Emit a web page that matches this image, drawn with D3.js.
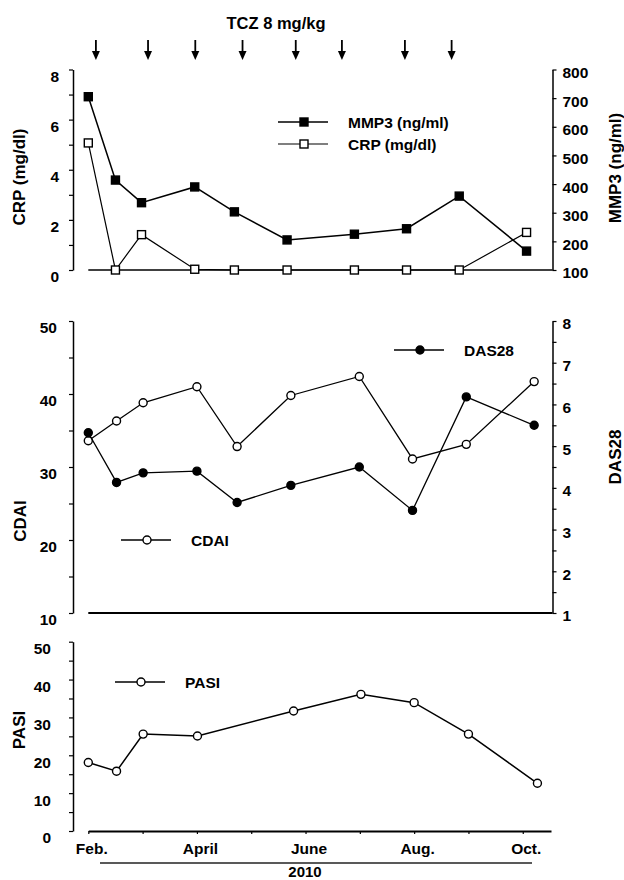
<!DOCTYPE html>
<html>
<head>
<meta charset="utf-8">
<script src="https://cdn.jsdelivr.net/npm/d3@7"></script>
<style>
  body { margin: 0; background: #fff; }
  svg text { font-family: "Liberation Sans", Arial, sans-serif; font-weight: bold; fill: #000; }
</style>
</head>
<body>
<svg id="chart" width="624" height="880"></svg>
<script>
/*
 * TCZ treatment course: CRP / MMP3, CDAI / DAS28 and PASI, Feb. - Oct. 2010
 */

// ** Data **
const monthTicks  = [0, 1, 2, 3, 4, 5, 6, 7, 8];          // months since Feb.
const monthLabels = ["Feb.", "", "April", "", "June", "", "Aug.", "", "Oct."];
const yearLabel   = "2010";

const tczMonths = [0.14, 1.1, 1.97, 2.84, 3.82, 4.67, 5.83, 6.69]; // infusions

const topMonths  = [0, 0.5, 0.98, 1.96, 2.69, 3.66, 4.9, 5.86, 6.83, 8.07];
const mmp3Values = [705, 414, 335, 390, 303, 205, 225, 244, 358, 166];
const crpValues  = [5.07, 0, 1.41, 0.03, 0, 0, 0, 0, 0, 1.5];

const midMonths   = [0, 0.52, 1.01, 2.0, 2.74, 3.73, 4.99, 5.97, 6.96, 8.21];
const cdaiValues  = [33.6, 36.3, 38.8, 41.0, 32.8, 39.8, 42.4, 31.1, 33.1, 41.7];
const das28Values = [5.32, 4.13, 4.36, 4.40, 3.65, 4.06, 4.50, 3.46, 6.18, 5.50];

const pasiMonths = [0, 0.52, 1.01, 2.01, 3.78, 5.02, 6.0, 7.0, 8.27];
const pasiValues = [18.1, 15.8, 25.6, 25.1, 31.7, 36.1, 33.9, 25.6, 12.6];

// ** Layout **
const leftAxisX  = 73;
const xEnd       = 8.52;   // months, end of the time line
const markerR    = 4;
const squareSize = 8;

var svg = d3.select("#chart");

var x = d3.scaleLinear().domain([0, xEnd]).range([88.3, 551]);
const rightAxisX = x(xEnd) + 1.5;

/*
 * Left / right value axes
 */
function drawLeftAxis(scale, values, labelEvery, padding) {
	let g = svg.append("g")
		.attr("transform", "translate(" + leftAxisX + ",0)")
		.call(d3.axisLeft(scale)
			.tickValues(values)
			.tickSize(4)
			.tickSizeOuter(0)
			.tickPadding(padding)
			.tickFormat(d => (Math.abs(d % labelEvery) < 1e-9 ? d : "")));
	styleAxis(g, 7);
	return g;
}

function drawRightAxis(scale, values, labelEvery) {
	let g = svg.append("g")
		.attr("transform", "translate(" + rightAxisX + ",0)")
		.call(d3.axisRight(scale)
			.tickValues(values)
			.tickSize(4)
			.tickSizeOuter(0)
			.tickPadding(6)
			.tickFormat(d => (Math.abs(d % labelEvery) < 1e-9 ? d : "")));
	styleAxis(g, 3);
	return g;
}

function styleAxis(g, shift) {
	g.select(".domain").attr("stroke", "#000").attr("stroke-width", 1.5);
	g.selectAll(".tick line").attr("stroke", "#000").attr("stroke-width", 1.2);
	g.selectAll("text").attr("font-size", 15.5).attr("y", shift);
}

// horizontal base line of a panel
function drawBaseLine(y, width) {
	svg.append("line")
		.attr("x1", x(0)).attr("x2", rightAxisX)
		.attr("y1", y).attr("y2", y)
		.attr("stroke", "#000").attr("stroke-width", width);
}

function axisTitle(text, cx, cy) {
	svg.append("text")
		.attr("transform", "translate(" + cx + "," + cy + ") rotate(-90)")
		.attr("text-anchor", "middle")
		.attr("dy", "0.35em")
		.attr("font-size", 17)
		.text(text);
}

/*
 * Series: line + markers
 */
function drawSeries(months, values, yScale, shape, filled, lineWidth) {
	let pts = months.map((m, i) => [x(m), yScale(values[i])]);
	svg.append("path")
		.attr("d", d3.line()(pts))
		.attr("fill", "none")
		.attr("stroke", "#000")
		.attr("stroke-width", lineWidth);
	pts.forEach(p => drawMarker(p[0], p[1], shape, filled));
}

function drawMarker(cx, cy, shape, filled) {
	if (shape == "square") {
		svg.append("rect")
			.attr("x", cx - squareSize / 2).attr("y", cy - squareSize / 2)
			.attr("width", squareSize).attr("height", squareSize)
			.attr("fill", filled ? "#000" : "#fff")
			.attr("stroke", "#000").attr("stroke-width", 1.4);
	} else {
		svg.append("circle")
			.attr("cx", cx).attr("cy", cy).attr("r", markerR)
			.attr("fill", filled ? "#000" : "#fff")
			.attr("stroke", "#000").attr("stroke-width", 1.4);
	}
}

// legend entry: short line, marker in the middle, label on the right
function legendItem(x1, y, label, shape, filled, lineWidth) {
	svg.append("line")
		.attr("x1", x1).attr("x2", x1 + 50)
		.attr("y1", y).attr("y2", y)
		.attr("stroke", "#000").attr("stroke-width", lineWidth);
	drawMarker(x1 + 26, y, shape, filled);
	svg.append("text")
		.attr("x", x1 + 70).attr("y", y)
		.attr("dy", "0.36em")
		.attr("font-size", 15.5)
		.text(label);
}

// ** Top panel: CRP and MMP3 **
var yCrp  = d3.scaleLinear().domain([0, 8]).range([270, 69.5]);
var yMmp3 = d3.scaleLinear().domain([100, 800]).range([270, 69.5]);

drawLeftAxis(yCrp, d3.range(0, 9, 1), 2, 10);
drawRightAxis(yMmp3, d3.range(100, 801, 100), 100);
drawBaseLine(270, 1.5);
axisTitle("CRP (mg/dl)", 19, 177);
axisTitle("MMP3 (ng/ml)", 615, 168);

drawSeries(topMonths, crpValues, yCrp, "square", false, 1.2);
drawSeries(topMonths, mmp3Values, yMmp3, "square", true, 1.5);

legendItem(278, 122, "MMP3 (ng/ml)", "square", true, 1.5);
legendItem(278, 144, "CRP (mg/dl)", "square", false, 1.2);

// TCZ infusion arrows
svg.append("text")
	.attr("x", 276).attr("y", 23)
	.attr("dy", "0.36em")
	.attr("text-anchor", "middle")
	.attr("font-size", 16.5)
	.text("TCZ 8 mg/kg");

tczMonths.forEach(function(m) {
	let ax = x(m);
	svg.append("line")
		.attr("x1", ax).attr("x2", ax)
		.attr("y1", 40).attr("y2", 53)
		.attr("stroke", "#000").attr("stroke-width", 1.8);
	svg.append("path")
		.attr("d", "M" + (ax - 4) + ",51L" + (ax + 4) + ",51L" + ax + ",60Z")
		.attr("fill", "#000");
});

// ** Middle panel: CDAI and DAS28 **
var yCdai = d3.scaleLinear().domain([10, 50]).range([613, 321]);
var yDas  = d3.scaleLinear().domain([1, 8]).range([613, 321]);

drawLeftAxis(yCdai, d3.range(10, 51, 5), 10, 12);
drawRightAxis(yDas, d3.range(1, 8.01, 0.5), 1);
drawBaseLine(613, 2.2);
axisTitle("CDAI", 20, 521);
axisTitle("DAS28", 615, 457);

drawSeries(midMonths, cdaiValues, yCdai, "circle", false, 1.3);
drawSeries(midMonths, das28Values, yDas, "circle", true, 1.3);

legendItem(394, 350, "DAS28", "circle", true, 1.3);
legendItem(121, 540, "CDAI", "circle", false, 1.3);

// ** Bottom panel: PASI **
var yPasi = d3.scaleLinear().domain([0, 50]).range([831, 641.7]);

drawLeftAxis(yPasi, d3.range(0, 51, 5), 10, 18);
axisTitle("PASI", 19, 730);

var xAxis = svg.append("g")
	.attr("transform", "translate(0,831)")
	.call(d3.axisBottom(x)
		.tickValues(monthTicks)
		.tickSize(3)
		.tickSizeOuter(0)
		.tickPadding(9)
		.tickFormat((d, i) => monthLabels[i]));
xAxis.select(".domain").attr("stroke", "#000").attr("stroke-width", 2);
xAxis.selectAll(".tick line").attr("stroke", "#000").attr("stroke-width", 1.2);
xAxis.selectAll("text").attr("font-size", 15.5).attr("x", 3);

drawSeries(pasiMonths, pasiValues, yPasi, "circle", false, 1.5);
legendItem(115, 682, "PASI", "circle", false, 1.3);

// year bar under the month labels
svg.append("line")
	.attr("x1", 100).attr("x2", 532)
	.attr("y1", 863).attr("y2", 863)
	.attr("stroke", "#222").attr("stroke-width", 1.3);
svg.append("text")
	.attr("x", 305).attr("y", 877)
	.attr("text-anchor", "middle")
	.attr("font-size", 15)
	.text(yearLabel);
</script>
</body>
</html>
